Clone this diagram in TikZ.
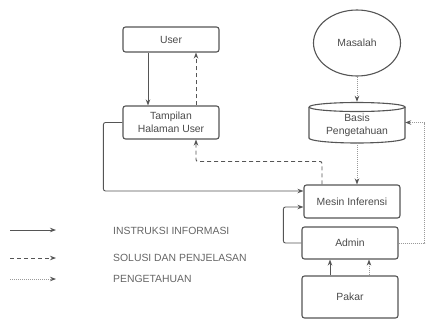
\documentclass[tikz,border=0pt]{standalone}
\usepackage{fontspec}
\setmainfont{Liberation Sans}
\usetikzlibrary{arrows.meta,shapes.geometric}
\definecolor{ln}{HTML}{555555}
\definecolor{tx}{HTML}{4A4A4A}
\definecolor{dt}{HTML}{9A9A9A}
\tikzset{
  box/.style={draw=ln,line width=1.1bp,rounded corners=2.5bp,align=center,text=tx,inner sep=0pt,
    font=\fontsize{10.4bp}{12.5bp}\selectfont},
  sol/.style={draw=ln,line width=0.9bp,rounded corners=2bp,-{Stealth[length=6bp,width=4.5bp]}},
  dsh/.style={draw=ln,line width=0.9bp,rounded corners=2bp,dash pattern=on 4bp off 3bp,-{Stealth[length=6bp,width=4.5bp]}},
  dtd/.style={draw=dt,line width=0.8bp,dash pattern=on 1bp off 1bp,-{Stealth[length=6bp,width=4.5bp,fill=ln,color=ln]}},
  leg/.style={anchor=west,text=tx!85,inner sep=0pt,font=\fontsize{10.4bp}{12bp}\selectfont}
}
\begin{document}
\begin{tikzpicture}[x=1bp,y=-1bp]
\useasboundingbox (0,0) rectangle (430,320);
% nodes
\node[box,minimum width=96bp,minimum height=25bp] (user) at (171,39.5) {User};
\node[box,minimum width=96bp,minimum height=33bp] (tamp) at (171,122.5) {Tampilan\\Halaman User};
\node[box,ellipse,rounded corners=0pt,minimum width=87bp,minimum height=66bp] (mas) at (357,43) {Masalah};
\node[inner sep=0pt,minimum width=96bp,minimum height=41bp] (basis) at (357,122.5) {};
\node[align=center,text=tx,inner sep=0pt,font=\fontsize{10.4bp}{13bp}\selectfont] (basist) at (357,125.5) {Basis\\Pengetahuan};
\node[box,minimum width=96bp,minimum height=33bp] (mesin) at (352,201.5) {Mesin Inferensi};
\node[box,minimum width=96bp,minimum height=32bp] (admin) at (350,243) {Admin};
\node[box,minimum width=96bp,minimum height=42bp] (pakar) at (350,297) {Pakar};
% cylinder outline for basis
\draw[ln,line width=1.1bp] (309,107) arc[start angle=180,end angle=-180,x radius=48,y radius=4.5];
\draw[ln,line width=1.1bp] (309,107) -- (309,138) arc[start angle=180,end angle=0,x radius=48,y radius=5] -- (405,107);
% connectors
\draw[sol] ([xshift=-23bp]user.south) -- ([xshift=-23bp]tamp.north);
\draw[dsh] ([xshift=25bp]tamp.north) -- ([xshift=25bp]user.south);
\draw[sol] (tamp.west) -- ++(-19,0) |- ([yshift=10.5bp]mesin.west);
\draw[dsh] ([xshift=-30bp]mesin.north) -- ++(0,-23) -| ([xshift=25bp]tamp.south);
\draw[dtd] (mas.south) -- (mas.south |- basis.north);
\draw[dtd] (basis.south) -- (basis.south |- mesin.north);
\draw[dtd] (admin.east) -- ++(26,0) |- (basis.east);
\draw[sol] (admin.west) -- ++(-18,0) |- ([yshift=-5.5bp]mesin.west);
\draw[sol] ([xshift=-20bp]pakar.north) -- ([xshift=-20bp]admin.south);
\draw[dtd] ([xshift=19bp]pakar.north) -- ([xshift=19bp]admin.south);
% legend
\coordinate (l1a) at (10,230); \coordinate (l1b) at (56,230);
\coordinate (l2a) at (10,258); \coordinate (l2b) at (56,258);
\coordinate (l3a) at (10,279); \coordinate (l3b) at (56,279);
\draw[sol] (l1a) -- (l1b);
\draw[dsh] (l2a) -- (l2b);
\draw[dtd] (l3a) -- (l3b);
\node[leg] (t1) at (113,231) {INSTRUKSI INFORMASI};
\node[leg] (t2) at (113,258) {SOLUSI DAN PENJELASAN};
\node[leg] (t3) at (113,279) {PENGETAHUAN};
\end{tikzpicture}
\end{document}
